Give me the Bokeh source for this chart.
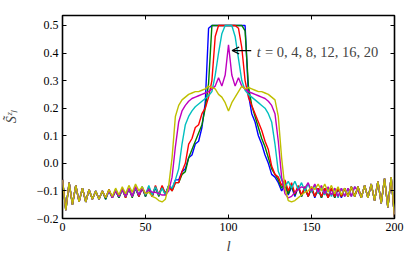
import math
from bokeh.plotting import figure
from bokeh.models import Range1d, LinearAxis, FixedTicker, Label, Arrow, OpenHead, CustomJSTickFormatter
from bokeh.embed import file_html
from bokeh.resources import INLINE

# lattice sites (every second site)
sites = list(range(0, 201, 2))

# t = 0 (blue)
s_t0 = [-0.06, -0.17, -0.07, -0.15, -0.08, -0.14, -0.09, -0.14, -0.095, -0.13,
        -0.10, -0.13, -0.10, -0.13, -0.10, -0.125, -0.10, -0.125, -0.095, -0.12,
        -0.095, -0.12, -0.09, -0.12, -0.09, -0.12, -0.09, -0.12, -0.09, -0.115,
        -0.085, -0.11, -0.08, -0.095, -0.06, -0.06, -0.03, -0.02, 0.02, 0.03,
        0.07, 0.08, 0.13, 0.22, 0.49, 0.5, 0.5, 0.5, 0.5, 0.5,
        0.5, 0.5, 0.5, 0.5, 0.5, 0.5, 0.25, 0.18, 0.15, 0.10,
        0.07, 0.03, 0.0, -0.04, -0.05, -0.07, -0.10, -0.08, -0.115, -0.085,
        -0.12, -0.085, -0.12, -0.09, -0.12, -0.09, -0.125, -0.09, -0.125, -0.09,
        -0.125, -0.09, -0.125, -0.09, -0.125, -0.09, -0.12, -0.085, -0.12, -0.085,
        -0.125, -0.08, -0.125, -0.075, -0.135, -0.065, -0.145, -0.055, -0.16, -0.05,
        -0.195]

# t = 4 (green)
s_t4 = [-0.06, -0.17, -0.07, -0.15, -0.08, -0.14, -0.09, -0.14, -0.095, -0.13,
        -0.10, -0.13, -0.10, -0.13, -0.095, -0.125, -0.10, -0.125, -0.095, -0.125,
        -0.09, -0.125, -0.09, -0.12, -0.085, -0.12, -0.09, -0.12, -0.085, -0.12,
        -0.085, -0.115, -0.08, -0.10, -0.07, -0.07, -0.04, -0.03, 0.02, 0.05,
        0.08, 0.11, 0.14, 0.2, 0.29, 0.5, 0.5, 0.5, 0.5, 0.5,
        0.5, 0.5, 0.5, 0.5, 0.5, 0.48, 0.28, 0.21, 0.17, 0.13,
        0.09, 0.06, 0.02, -0.02, -0.04, -0.06, -0.09, -0.07, -0.11, -0.08,
        -0.115, -0.085, -0.12, -0.085, -0.12, -0.09, -0.12, -0.09, -0.125, -0.09,
        -0.125, -0.09, -0.125, -0.09, -0.12, -0.09, -0.12, -0.085, -0.12, -0.085,
        -0.125, -0.08, -0.125, -0.075, -0.135, -0.065, -0.145, -0.055, -0.16, -0.05,
        -0.195]

# t = 8 (red)
s_t8 = [-0.06, -0.17, -0.07, -0.15, -0.08, -0.14, -0.09, -0.14, -0.095, -0.13,
        -0.10, -0.13, -0.10, -0.125, -0.095, -0.125, -0.095, -0.12, -0.09, -0.125,
        -0.09, -0.12, -0.085, -0.12, -0.09, -0.115, -0.085, -0.12, -0.08, -0.115,
        -0.08, -0.11, -0.085, -0.10, -0.07, -0.07, -0.03, 0.0, 0.07, 0.09,
        0.13, 0.14, 0.18, 0.2, 0.24, 0.3, 0.46, 0.5, 0.5, 0.5,
        0.5, 0.5, 0.5, 0.49, 0.42, 0.3, 0.24, 0.21, 0.18, 0.15,
        0.12, 0.08, 0.05, -0.01, -0.04, -0.05, -0.08, -0.06, -0.10, -0.07,
        -0.11, -0.08, -0.115, -0.085, -0.12, -0.085, -0.12, -0.09, -0.12, -0.09,
        -0.125, -0.09, -0.12, -0.09, -0.12, -0.09, -0.12, -0.085, -0.12, -0.085,
        -0.125, -0.08, -0.125, -0.075, -0.135, -0.065, -0.145, -0.055, -0.16, -0.05,
        -0.195]

# t = 12 (cyan)
s_t12 = [-0.06, -0.17, -0.07, -0.15, -0.08, -0.14, -0.09, -0.14, -0.095, -0.13,
         -0.10, -0.13, -0.10, -0.125, -0.10, -0.125, -0.095, -0.12, -0.095, -0.12,
         -0.09, -0.12, -0.09, -0.115, -0.085, -0.115, -0.08, -0.115, -0.085, -0.115,
         -0.09, -0.115, -0.08, -0.09, -0.06, -0.02, 0.07, 0.14, 0.17, 0.19,
         0.205, 0.215, 0.225, 0.235, 0.245, 0.26, 0.32, 0.40, 0.47, 0.5,
         0.5, 0.5, 0.46, 0.38, 0.3, 0.265, 0.25, 0.24, 0.23, 0.22,
         0.21, 0.2, 0.18, 0.15, 0.07, -0.03, -0.06, -0.085, -0.065, -0.09,
         -0.065, -0.095, -0.07, -0.10, -0.075, -0.105, -0.08, -0.11, -0.085, -0.115,
         -0.09, -0.12, -0.09, -0.125, -0.09, -0.12, -0.09, -0.12, -0.085, -0.10,
         -0.125, -0.08, -0.125, -0.075, -0.135, -0.065, -0.145, -0.055, -0.16, -0.05,
         -0.195]

# t = 16 (magenta)
s_t16 = [-0.06, -0.17, -0.07, -0.15, -0.08, -0.14, -0.09, -0.14, -0.095, -0.13,
         -0.10, -0.13, -0.10, -0.125, -0.10, -0.125, -0.10, -0.12, -0.095, -0.12,
         -0.09, -0.12, -0.085, -0.115, -0.09, -0.11, -0.095, -0.105, -0.105, -0.11,
         -0.115, -0.115, -0.10, -0.05, 0.06, 0.15, 0.19, 0.21, 0.225, 0.235,
         0.24, 0.245, 0.25, 0.255, 0.26, 0.27, 0.28, 0.31, 0.28, 0.32,
         0.43, 0.32, 0.28, 0.31, 0.28, 0.27, 0.26, 0.255, 0.25, 0.245,
         0.24, 0.235, 0.225, 0.21, 0.18, 0.08, -0.05, -0.11, -0.125, -0.12,
         -0.105, -0.095, -0.085, -0.09, -0.07, -0.10, -0.075, -0.105, -0.08, -0.11,
         -0.085, -0.115, -0.09, -0.12, -0.09, -0.12, -0.09, -0.12, -0.085, -0.10,
         -0.125, -0.08, -0.125, -0.075, -0.135, -0.065, -0.145, -0.055, -0.16, -0.05,
         -0.195]

# t = 20 (yellow)
s_t20 = [-0.06, -0.17, -0.07, -0.15, -0.08, -0.14, -0.09, -0.14, -0.095, -0.13,
         -0.10, -0.13, -0.10, -0.125, -0.095, -0.12, -0.09, -0.115, -0.085, -0.11,
         -0.08, -0.105, -0.075, -0.10, -0.085, -0.11, -0.105, -0.12, -0.125, -0.135,
         -0.14, -0.13, -0.08, 0.02, 0.17, 0.21, 0.23, 0.24, 0.25, 0.255,
         0.26, 0.26, 0.265, 0.27, 0.28, 0.275, 0.27, 0.25, 0.24, 0.22,
         0.19, 0.22, 0.24, 0.26, 0.28, 0.27, 0.275, 0.27, 0.265, 0.26,
         0.26, 0.255, 0.25, 0.24, 0.23, 0.17, 0.02, -0.09, -0.135, -0.14,
         -0.135, -0.125, -0.115, -0.105, -0.10, -0.085, -0.095, -0.075, -0.10, -0.075,
         -0.105, -0.08, -0.11, -0.085, -0.115, -0.09, -0.12, -0.085, -0.12, -0.085,
         -0.125, -0.08, -0.125, -0.075, -0.135, -0.065, -0.145, -0.055, -0.16, -0.05,
         -0.195]

series = [s_t0, s_t4, s_t8, s_t12, s_t16, s_t20]
colors = ["#0000ff", "#008000", "#ff0000", "#00bfbf", "#bf00bf", "#bfbf00"]

x_ticks = [0, 50, 100, 150, 200]
y_ticks = [-0.2, -0.1, 0.0, 0.1, 0.2, 0.3, 0.4, 0.5]
annot_text = "= 0, 4, 8, 12, 16, 20"

SERIF = "Liberation Serif"

p = figure(width=415, height=257, output_backend="svg", toolbar_location=None,
           x_range=Range1d(0, 200), y_range=Range1d(-0.2, 0.536),
           min_border_left=62, min_border_right=21, min_border_top=15, min_border_bottom=39)
p.background_fill_color = "white"
p.border_fill_color = "white"
p.grid.visible = False
p.outline_line_color = "black"
p.outline_line_width = 1.6

for ys, c in zip(series, colors):
    p.line(sites, ys, line_color=c, line_width=1.4)

fmt_y = CustomJSTickFormatter(code="return tick < -1e-9 ? '\\u2212' + (-tick).toFixed(1) : Math.abs(tick).toFixed(1);")
fmt_none = CustomJSTickFormatter(code="return '';")

def style_axis(ax, show_labels):
    ax.axis_line_color = None
    ax.major_tick_in = 4
    ax.major_tick_out = 0
    ax.minor_tick_line_color = None
    ax.major_tick_line_color = "black"
    ax.major_tick_line_width = 1
    ax.major_label_text_font = SERIF
    ax.major_label_text_font_size = "12px"
    ax.major_label_text_color = "black"
    ax.major_label_standoff = 4 if show_labels else 0
    if not show_labels:
        ax.formatter = fmt_none

xa = p.xaxis[0]
ya = p.yaxis[0]
xa.ticker = FixedTicker(ticks=x_ticks)
ya.ticker = FixedTicker(ticks=y_ticks)
ya.formatter = fmt_y
style_axis(xa, True)
style_axis(ya, True)

xa.axis_label = "l"
xa.axis_label_text_font = SERIF
xa.axis_label_text_font_style = "italic"
xa.axis_label_text_font_size = "15px"
xa.axis_label_standoff = 4

ya.axis_label = "S\u0303\u1dbb\u2097"
ya.axis_label_text_font = SERIF
ya.axis_label_text_font_style = "italic"
ya.axis_label_text_font_size = "14px"
ya.axis_label_standoff = 15

top = LinearAxis(ticker=FixedTicker(ticks=x_ticks))
right = LinearAxis(ticker=FixedTicker(ticks=y_ticks))
style_axis(top, False)
style_axis(right, False)
p.add_layout(top, "above")
p.add_layout(right, "right")

# annotation
p.add_layout(Arrow(end=OpenHead(size=7, line_width=1.3, line_color="black"),
                   x_start=113.7, y_start=0.409, x_end=102.2, y_end=0.409,
                   line_color="black", line_width=1.3))
p.add_layout(Label(x=117.0, y=0.405, text="t", text_font=SERIF, text_font_style="italic",
                   text_font_size="14.5px", text_align="left", text_baseline="alphabetic"))
p.add_layout(Label(x=122.0, y=0.405, text=annot_text, text_font=SERIF,
                   text_font_size="14.5px", text_align="left", text_baseline="alphabetic"))

open("out.html", "w").write(file_html(p, INLINE))
